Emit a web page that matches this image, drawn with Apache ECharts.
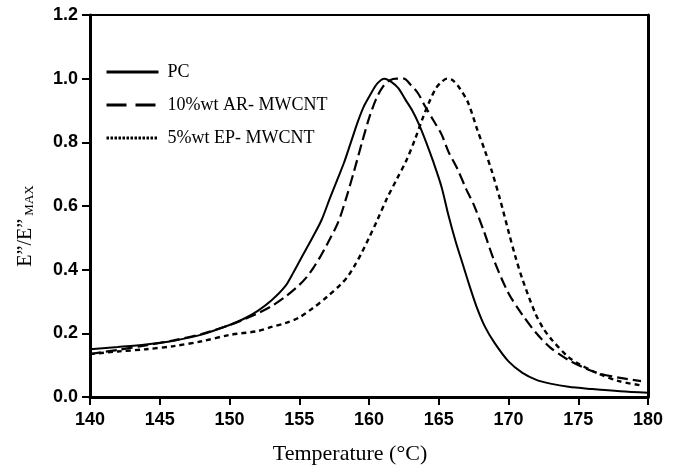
<!DOCTYPE html>
<html>
<head>
<meta charset="utf-8">
<script src="https://cdn.jsdelivr.net/npm/echarts@6/dist/echarts.min.js"></script>
<style>html,body{margin:0;padding:0;background:#fff;}#c{width:675px;height:470px;}</style>
</head>
<body>
<div id="c"></div>
<script>
var seriesNames = ['PC', '10%wt AR- MWCNT', '5%wt EP- MWCNT'];
var xTicks = [140, 145, 150, 155, 160, 165, 170, 175, 180];
var yTicks = [0.0, 0.2, 0.4, 0.6, 0.8, 1.0, 1.2];

var pcT = [140,142,144,146,148,150,151,152,153,154,154.6,155,155.5,156,156.6,157.2,157.7,158.2,158.7,159.2,159.6,160.1,160.6,161.1,161.6,162.1,162.6,163.1,163.6,164.1,164.6,165.2,165.7,166.2,166.7,167.2,167.7,168.3,169,170,171,172,173,174.3,176,178,180];
var pcV = [0.150,0.157,0.165,0.177,0.196,0.226,0.245,0.270,0.303,0.348,0.393,0.425,0.465,0.505,0.556,0.625,0.680,0.735,0.800,0.865,0.910,0.950,0.985,1.000,0.990,0.970,0.935,0.900,0.855,0.800,0.740,0.660,0.570,0.490,0.420,0.350,0.285,0.222,0.170,0.112,0.076,0.054,0.042,0.032,0.025,0.018,0.013];

var arT = [140,142,144,146,148,150,151,152,153,154,155,155.5,156,156.5,157,157.8,158.4,158.9,159.5,160,160.5,161,161.5,162,162.5,163,163.5,164,164.6,165.2,165.7,166.3,167,167.5,168.2,169,170,171,172,173,174.3,175.5,176.5,178,179.5];
var arV = [0.135,0.148,0.162,0.178,0.198,0.226,0.243,0.262,0.285,0.315,0.352,0.375,0.405,0.440,0.480,0.550,0.630,0.705,0.800,0.875,0.935,0.975,0.995,1.000,1.000,0.980,0.955,0.915,0.870,0.825,0.770,0.720,0.650,0.605,0.525,0.425,0.326,0.258,0.200,0.155,0.116,0.090,0.074,0.060,0.050];

var epT = [140,142,144,146,148,150,152,153,154,155,156,157,158,158.5,159,159.5,160,160.6,161.3,162,162.7,163.3,163.8,164.3,164.8,165.2,165.6,166,166.5,167.1,167.8,168.3,168.8,169.4,170,170.5,171,171.9,172.5,173.1,174.3,175,176.2,177.9,179.6];
var epV = [0.135,0.143,0.150,0.160,0.175,0.195,0.207,0.220,0.232,0.250,0.280,0.315,0.355,0.380,0.415,0.455,0.500,0.556,0.625,0.685,0.745,0.810,0.870,0.925,0.970,0.990,1.000,0.995,0.970,0.925,0.835,0.775,0.710,0.620,0.520,0.440,0.370,0.265,0.215,0.180,0.125,0.105,0.078,0.050,0.036];

function pairs(t, v) { return t.map(function (x, i) { return [x, v[i]]; }); }

var tickFont = { color: '#000', fontFamily: '"Liberation Sans", Arial, sans-serif', fontWeight: 'bold', fontSize: 18 };
var serif = '"Liberation Serif", "Times New Roman", serif';

var chart = echarts.init(document.getElementById('c'), null, { renderer: 'canvas' });
chart.setOption({
  animation: false,
  backgroundColor: '#fff',
  grid: { left: 90, right: 27, top: 15, bottom: 73, show: true, borderColor: '#000', borderWidth: 2, containLabel: false },
  legend: {
    orient: 'vertical', left: 100, top: 58, itemWidth: 52, itemHeight: 14, itemGap: 15,
    itemStyle: { opacity: 0 },
    textStyle: { color: '#000', fontFamily: serif, fontSize: 18, padding: [0, 0, 0, 4] },
    data: [
      { name: seriesNames[0], lineStyle: { type: 'solid', width: 3, opacity: 1 } },
      { name: seriesNames[1], lineStyle: { type: [20, 9], width: 3, opacity: 1 } },
      { name: seriesNames[2], lineStyle: { type: [2.5, 1.5], width: 3, opacity: 1 } }
    ]
  },
  xAxis: {
    type: 'value', min: xTicks[0], max: xTicks[xTicks.length - 1], interval: 5,
    name: 'Temperature (°C)', nameLocation: 'middle', nameGap: 46,
    nameTextStyle: { color: '#000', fontFamily: serif, fontSize: 22, padding: [0, 38, 0, 0] },
    axisLine: { show: true, onZero: false, lineStyle: { color: '#000', width: 3 } },
    axisTick: { show: true, inside: false, length: 8, lineStyle: { color: '#000', width: 2 } },
    axisLabel: Object.assign({ margin: 14 }, tickFont),
    splitLine: { show: false }
  },
  yAxis: [{
    type: 'value', min: yTicks[0], max: yTicks[yTicks.length - 1], interval: 0.2,
    name: '{a|E”/E”}{b| MAX}', nameLocation: 'middle', nameGap: 54,
    nameTextStyle: {
      color: '#000', fontFamily: serif, padding: [0, 40, 0, 0],
      rich: {
        a: { fontFamily: serif, fontSize: 20, color: '#000' },
        b: { fontFamily: serif, fontSize: 13, color: '#000', verticalAlign: 'bottom' }
      }
    },
    axisLine: { show: true, onZero: false, lineStyle: { color: '#000', width: 3 } },
    axisTick: { show: true, inside: false, length: 8, lineStyle: { color: '#000', width: 2 } },
    axisLabel: Object.assign({ margin: 12, formatter: function (v) { return v.toFixed(1); } }, tickFont),
    splitLine: { show: false }
  }, {
    type: 'value', position: 'right', min: 0, max: 1.2, interval: 0.2,
    axisLine: { show: true, lineStyle: { color: '#000', width: 3 } },
    axisTick: { show: false }, axisLabel: { show: false }, splitLine: { show: false }
  }],
  series: [
    { name: seriesNames[0], type: 'line', data: pairs(pcT, pcV), symbol: 'none', smooth: 0.3,
      lineStyle: { color: '#000', width: 2, type: 'solid' }, itemStyle: { color: '#000' } },
    { name: seriesNames[1], type: 'line', data: pairs(arT, arV), symbol: 'none', smooth: 0.3,
      lineStyle: { color: '#000', width: 2.2, type: [11, 5] }, itemStyle: { color: '#000' } },
    { name: seriesNames[2], type: 'line', data: pairs(epT, epV), symbol: 'none', smooth: 0.3,
      lineStyle: { color: '#000', width: 2.4, type: [5, 4] }, itemStyle: { color: '#000' } }
  ]
});
</script>
</body>
</html>
